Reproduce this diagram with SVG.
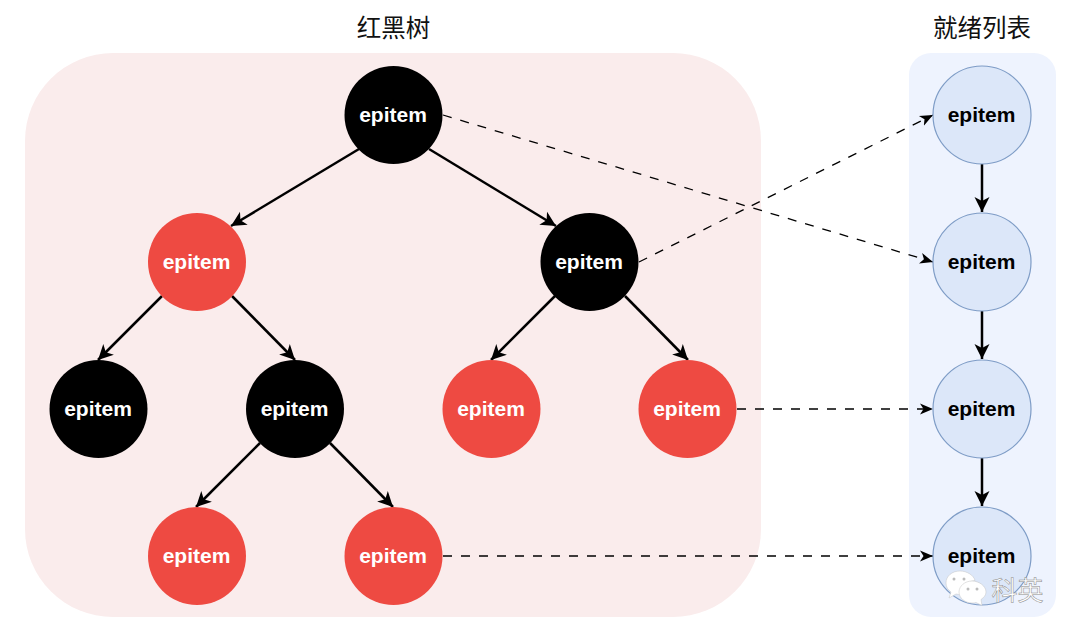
<svg xmlns="http://www.w3.org/2000/svg" width="1080" height="638" viewBox="0 0 1080 638">
<style>
text{font-family:"Liberation Sans",Arial,sans-serif;font-weight:700;font-size:21px;text-anchor:middle}
.t{font-family:"Noto Sans CJK SC","Liberation Sans",sans-serif;font-weight:400;font-size:24.500px;fill:#111}
.b circle{fill:#000}.b text,.r text{fill:#fff}
.r circle{fill:#ee4a42}
.l circle{fill:#dce7f9;stroke:#7e9cc6;stroke-width:1.2}.l text{fill:#000}
.s{stroke:#000;stroke-width:2.500;fill:none}
.d{stroke:#000;stroke-width:1.300;fill:none;stroke-dasharray:9 9}
</style>
<defs>
<marker id="a" markerUnits="userSpaceOnUse" markerWidth="18" markerHeight="18" refX="15" refY="9" orient="auto"><path d="M0 1.500L15 9L0 16.500L4 9Z" fill="#000"/></marker>
<marker id="c" markerUnits="userSpaceOnUse" markerWidth="14" markerHeight="14" refX="13" refY="7" orient="auto"><path d="M0 1.500L13 7L0 12.500L3.500 7Z" fill="#000"/></marker>
</defs>
<rect x="25" y="53" width="736" height="564" rx="88" fill="#faecec"/>
<rect x="909" y="53" width="147" height="564" rx="22" fill="#eef3fe"/>
<text class="t" x="393.500" y="37">红黑树</text>
<text class="t" x="982" y="37">就绪列表</text>
<g id="connectors">
<path class="s" marker-end="url(#a)" d="M359 149L231 226"/>
<path class="s" marker-end="url(#a)" d="M429 149L556 226"/>
<path class="s" marker-end="url(#a)" d="M162 296L98 360"/>
<path class="s" marker-end="url(#a)" d="M232 296L295 360"/>
<path class="s" marker-end="url(#a)" d="M555 296L491 360"/>
<path class="s" marker-end="url(#a)" d="M625 296L688 360"/>
<path class="s" marker-end="url(#a)" d="M260 443L196 507"/>
<path class="s" marker-end="url(#a)" d="M330 443L393 507"/>
<path class="s" marker-end="url(#a)" d="M982 164V212"/>
<path class="s" marker-end="url(#a)" d="M982 311V359"/>
<path class="s" marker-end="url(#a)" d="M982 458V506"/>
<path class="d" marker-end="url(#c)" d="M443 115L933 262"/>
<path class="d" marker-end="url(#c)" d="M639 262L933 115"/>
<path class="d" marker-end="url(#c)" d="M737 409H933"/>
<path class="d" marker-end="url(#c)" d="M443 556H933"/>
</g>
<g id="n1" class="b"><circle cx="393.500" cy="115" r="49"/><text x="393" y="121.500">epitem</text></g>
<g id="n2" class="r"><circle cx="197" cy="262" r="49"/><text x="196.500" y="268.500">epitem</text></g>
<g id="n3" class="b"><circle cx="589.500" cy="262" r="49"/><text x="589" y="268.500">epitem</text></g>
<g id="n4" class="b"><circle cx="98.500" cy="409" r="49"/><text x="98" y="415.500">epitem</text></g>
<g id="n5" class="b"><circle cx="295" cy="409" r="49"/><text x="294.500" y="415.500">epitem</text></g>
<g id="n6" class="r"><circle cx="491.500" cy="409" r="49"/><text x="491" y="415.500">epitem</text></g>
<g id="n7" class="r"><circle cx="687.500" cy="409" r="49"/><text x="687" y="415.500">epitem</text></g>
<g id="n8" class="r"><circle cx="197" cy="556" r="49"/><text x="196.500" y="562.500">epitem</text></g>
<g id="n9" class="r"><circle cx="393.500" cy="556" r="49"/><text x="393" y="562.500">epitem</text></g>
<g id="l1" class="l"><circle cx="982" cy="115" r="49"/><text x="981.500" y="121.500">epitem</text></g>
<g id="l2" class="l"><circle cx="982" cy="262" r="49"/><text x="981.500" y="268.500">epitem</text></g>
<g id="l3" class="l"><circle cx="982" cy="409" r="49"/><text x="981.500" y="415.500">epitem</text></g>
<g id="l4" class="l"><circle cx="982" cy="556" r="49"/><text x="981.500" y="562.500">epitem</text></g>
<g id="watermark">
<path d="M960 571c-8 0-14 5-14 12 0 4 2 7 5 9l-2 6 7-4c2 .500 3 .500 5 .500 0-8 6-13 14-14-1-5-8-9.500-15-9.500Z" fill="#fff" stroke="#c4c4c4" stroke-width=".5"/>
<path d="M972 581c-7 0-13 5-13 11s6 11 13 11c1.500 0 3 0 4-.5l6 3-1-6c3-2 5-4.500 5-7.500 0-6-7-11-14-11Z" fill="#fff" stroke="#c4c4c4" stroke-width=".5"/>
<circle cx="954" cy="579" r="1.500" fill="#bbb"/><circle cx="964" cy="579" r="1.500" fill="#bbb"/>
<circle cx="968" cy="589" r="1.500" fill="#bbb"/><circle cx="977" cy="589" r="1.500" fill="#bbb"/>
<text class="t" x="1017.500" y="600" style="font-size:26px;fill:#fff;stroke:#888;stroke-width:.5">科英</text>
</g>
</svg>
